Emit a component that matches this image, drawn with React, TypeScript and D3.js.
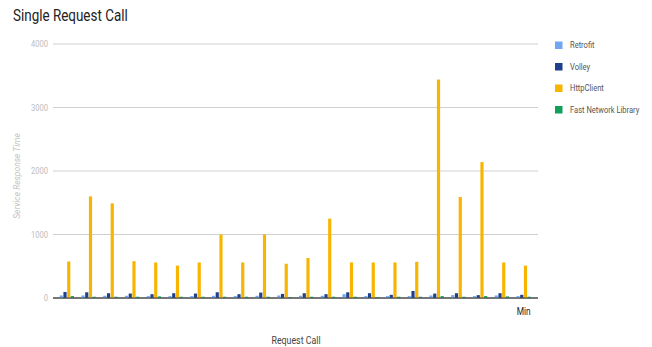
import React from "react";
import * as d3 from "d3";

// Response times per request call (ms)
const callLabels = ["", "", "", "", "", "", "", "", "", "", "", "", "", "", "", "", "", "", "", "", "", "Min"];
const retrofit = [40, 40, 35, 35, 30, 30, 30, 35, 30, 35, 40, 35, 35, 60, 30, 30, 30, 40, 45, 30, 40, 30];
const volley = [95, 90, 75, 70, 60, 75, 70, 90, 60, 85, 65, 75, 60, 90, 75, 50, 110, 70, 75, 45, 75, 50];
const httpClient = [575, 1600, 1490, 580, 560, 510, 560, 1000, 560, 1000, 540, 630, 1250, 560, 560, 560, 570, 3440, 1590, 2140, 560, 510];
const fastNetwork = [30, 20, 20, 20, 25, 20, 20, 20, 20, 20, 15, 20, 20, 20, 15, 20, 20, 30, 20, 30, 25, 20];

const seriesNames = ["Retrofit", "Volley", "HttpClient", "Fast Network Library"];
const seriesColors = ["#72a6f2", "#1d3f8c", "#f7b500", "#10a05a"];
const yTicks = [0, 1000, 2000, 3000, 4000];

const W = 652;
const H = 347;
const left = 56;
const right = 534.5;
const top = 44;
const bottom = 298;

// Text is set slightly condensed horizontally.
const SX = 0.84;

function CText({ x, y, anchor = "start", children, ...rest }: any) {
  return (
    <g transform={`translate(${x},${y}) scale(${SX},1)`}>
      <text x={0} y={0} textAnchor={anchor} {...rest}>{children}</text>
    </g>
  );
}

export default function App() {
  const series = [retrofit, volley, httpClient, fastNetwork];
  const idx = callLabels.map((_, i) => String(i));

  const x0 = d3.scaleBand<string>().domain(idx).range([left, right]).paddingInner(0.34).paddingOuter(0.17);
  const x1 = d3.scaleBand<string>().domain(seriesNames).range([0, x0.bandwidth()]).paddingInner(0.15);
  const y = d3.scaleLinear().domain([0, 4000]).range([bottom, top]);

  const font = "Roboto, 'Noto Sans', sans-serif";

  return (
    <svg width={W} height={H} style={{ position: "absolute", left: 0, top: 0, background: "#fff" }} fontFamily={font}>
      <CText x={13} y={21} fontSize={16} fill="#222">Single Request Call</CText>

      {/* gridlines and y tick labels */}
      {yTicks.map((t) => (
        <g key={t}>
          <line x1={53} x2={538} y1={y(t)} y2={y(t)} stroke={t === 0 ? "#333" : "#d0d0d0"} strokeWidth={1} />
          <CText x={48} y={y(t) + 3} fontSize={9} anchor="end" fill="#bdbdbd">{t}</CText>
        </g>
      ))}

      <text
        transform={`translate(20, 176) rotate(-90)`}
        fontSize={8.5}
        fontStyle="italic"
        textAnchor="middle"
        fill="#c4c4c4"
      >
        Service Response Time
      </text>

      {/* grouped bars */}
      {idx.map((k, i) => (
        <g key={k} transform={`translate(${x0(k)},0)`}>
          {series.map((vals, s) => (
            <rect
              key={s}
              x={x1(seriesNames[s])}
              y={y(vals[i])}
              width={x1.bandwidth()}
              height={bottom - y(vals[i])}
              fill={seriesColors[s]}
            />
          ))}
        </g>
      ))}

      {/* redraw baseline on top of bars */}
      <line x1={53} x2={538} y1={bottom} y2={bottom} stroke="#555" strokeWidth={1} />

      {/* category labels */}
      {idx.map((k, i) =>
        callLabels[i] ? (
          <CText key={k} x={(x0(k) as number) + x0.bandwidth() / 2} y={315} fontSize={10} anchor="middle" fill="#222">
            {callLabels[i]}
          </CText>
        ) : null
      )}

      <CText x={296} y={344} fontSize={10.5} anchor="middle" fill="#444">Request Call</CText>

      {/* legend */}
      {seriesNames.map((name, s) => (
        <g key={name} transform={`translate(555, ${45 + s * 21.5})`}>
          <rect x={0} y={-3.5} width={7.5} height={7.5} fill={seriesColors[s]} />
          <CText x={15} y={3} fontSize={9} fill="#555">{name}</CText>
        </g>
      ))}
    </svg>
  );
}
